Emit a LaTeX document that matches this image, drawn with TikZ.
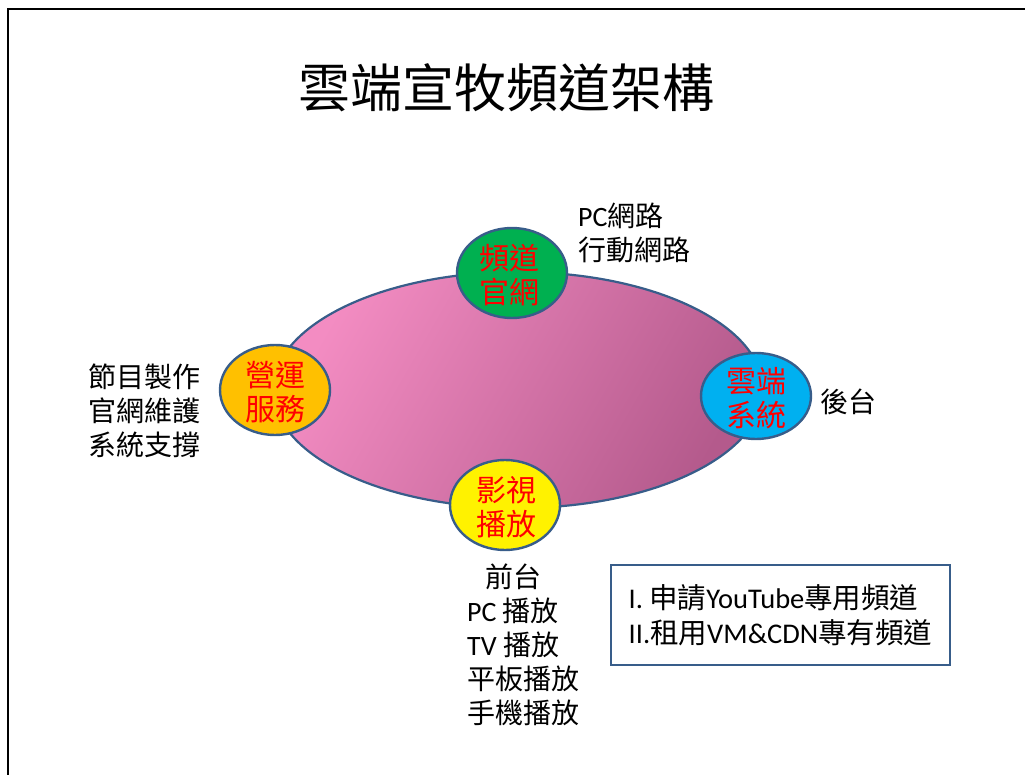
\documentclass[tikz,border=0pt]{standalone}
\usepackage{fontspec}
\setmainfont{Noto Sans CJK TC}
\newfontfamily\lat{Carlito}
\usetikzlibrary{positioning}
\definecolor{pinkL}{RGB}{243,140,194}
\definecolor{pinkR}{RGB}{180,90,140}
\definecolor{rimblue}{RGB}{56,93,138}
\definecolor{webgreen}{RGB}{0,176,80}
\definecolor{opsorange}{RGB}{255,192,0}
\definecolor{cloudblue}{RGB}{0,176,240}
\definecolor{txtred}{RGB}{255,0,0}
\begin{document}
\begin{tikzpicture}[x=1pt,y=-1pt,
    bubble/.style={draw=rimblue,line width=2.4pt},
    bubtext/.style={align=center,text=txtred,inner sep=0pt,font=\fontsize{30}{34}\selectfont},
    side/.style={align=left,inner sep=0pt,font=\fontsize{28}{34}\selectfont}]
    \useasboundingbox(0,0)rectangle(1025,775);
    \draw[line width=2.5pt](8,775)--(8,9)--(1025,9);
    \node[font=\fontsize{52}{60}\selectfont](title)at(506,88){雲端宣牧頻道架構};
    \draw[rimblue,line width=2.2pt,top color=pinkL,bottom color=pinkR,shading angle=60](518,390)ellipse(245 and 118);
    \draw[bubble,fill=webgreen](512,273)ellipse(55 and 45);
    \draw[bubble,fill=opsorange](275,390)ellipse(55 and 45);
    \draw[bubble,fill=yellow](505,505)ellipse(55 and 45);
    \draw[bubble,fill=cloudblue](756,396)ellipse(55 and 43);
    \node[bubtext](web)at(509,275){頻道\\官網};
    \node[bubtext](ops)at(275,392){營運\\服務};
    \node[bubtext](play)at(506,507){影視\\播放};
    \node[bubtext](cloud)at(756,398){雲端\\系統};
    \node[side,anchor=west](netlbl)at(578,233){{\lat PC}網路\\行動網路};
    \node[side,anchor=east](opslbl)at(201,411){節目製作\\官網維護\\系統支撐};
    \node[side,anchor=west](backlbl)at(820,402){後台};
    \node[side,anchor=north west](frontlbl)at(467,564){\hspace*{18pt}前台\\{\lat PC} 播放\\{\lat TV} 播放\\平板播放\\手機播放};
    \node[draw=rimblue,line width=2.5pt,minimum width=339pt,minimum height=100pt,align=left,
        font=\fontsize{28.5}{35}\selectfont](plan)at(780.5,615){{\lat I.} 申請{\lat YouTube}專用頻道\\{\lat II.}租用{\lat VM\&CDN}專有頻道};
\end{tikzpicture}
\end{document}
